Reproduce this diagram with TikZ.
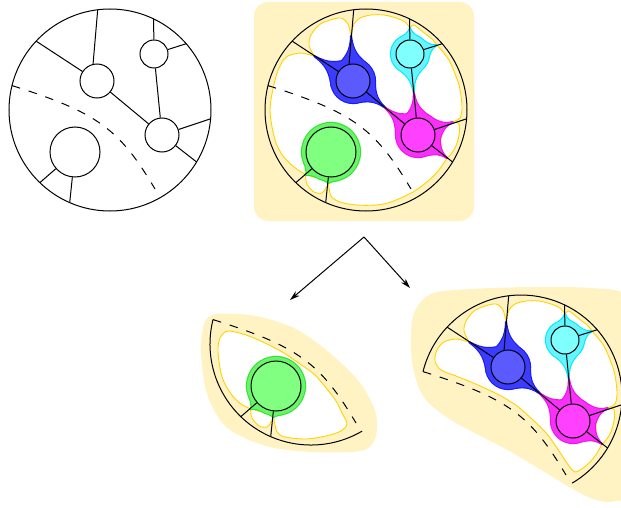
\documentclass[tikz,border=0pt]{standalone}
\usetikzlibrary{arrows.meta}

\definecolor{paper}{RGB}{255,243,196}
\definecolor{rim}{RGB}{255,210,0}
\definecolor{bluev}{RGB}{90,90,255}
\definecolor{blueh}{RGB}{60,60,255}
\definecolor{blueo}{RGB}{25,25,245}
\definecolor{cyanv}{RGB}{128,255,255}
\definecolor{cyanh}{RGB}{100,245,255}
\definecolor{cyano}{RGB}{0,235,255}
\definecolor{magv}{RGB}{255,64,255}
\definecolor{magh}{RGB}{250,48,250}
\definecolor{mago}{RGB}{235,20,235}
\definecolor{greenv}{RGB}{128,255,128}
\definecolor{greenh}{RGB}{105,245,105}
\definecolor{greeno}{RGB}{45,230,45}

\tikzset{
  vtx/.style={circle, draw, line width=1pt, inner sep=0pt, fill=white},
  link/.style={line width=1pt},
  face/.style={fill=white, draw=rim, line width=0.9pt},
  cut/.style={line width=1pt, dash pattern=on 8.5pt off 9pt},
  haloedge/.style={fill=#1o, draw=#1o, line width=2.2pt, line join=round},
  halofill/.style={fill=#1h},
}

% points where the edges meet the disc boundary
\newcommand{\rimpoints}[1]{%
  \coordinate (#1P1) at (97.7,9.8);
  \coordinate (#1P2) at (36.1,41.1);
  \coordinate (#1P3) at (153.6,18.9);
  \coordinate (#1P4) at (186.2,43.7);
  \coordinate (#1P5) at (210.6,118.8);
  \coordinate (#1P6) at (196.6,162.0);
  \coordinate (#1P7) at (39.8,182.7);
  \coordinate (#1P8) at (69.7,202.6);
  \coordinate (#1P9) at (12.0,85.6);
  \coordinate (#1Q) at (161.1,197.1);}

\newcommand{\topgraph}[4]{%
  \node[vtx, minimum size=34pt, fill=#2] (#1A) at (97,81) {};
  \node[vtx, minimum size=28pt, fill=#3] (#1B) at (154,54) {};
  \node[vtx, minimum size=34pt, fill=#4] (#1C) at (162,135) {};
  \draw[link] (#1A.103) -- (#1P1);
  \draw[link] (#1A) -- (#1P2);
  \draw[link] (#1A) -- (#1C);
  \draw[link] (#1B) -- (#1P3);
  \draw[link] (#1B) -- (#1P4);
  \draw[link] (#1B) -- (#1C);
  \draw[link] (#1C) -- (#1P5);
  \draw[link] (#1C) -- (#1P6);}

\newcommand{\lowgraph}[2]{%
  \node[vtx, minimum size=50pt, fill=#2] (#1D) at (75,152) {};
  \draw[link] (#1D) -- (#1P7);
  \draw[link] (#1D) -- (#1P8);}

% halo: disc plus tapering spikes along the edges
\newcommand{\halopass}[4]{%
  \begin{scope}[shift={(#2)}]
    \path[#1] (0,0) circle[radius=#3];
    \foreach \spa/\spl in {#4}
      \path[#1] (\spa+48:#3)
        .. controls (\spa+16:{#3+0.1*(\spl-#3)}) and (\spa+2:{#3+0.3*(\spl-#3)}) .. (\spa:\spl)
        .. controls (\spa-2:{#3+0.3*(\spl-#3)}) and (\spa-16:{#3+0.1*(\spl-#3)}) .. (\spa-48:#3) -- cycle;
  \end{scope}}
\newcommand{\halo}[4]{%
  \halopass{haloedge=#3}{#1}{#2}{#4}%
  \halopass{halofill=#3}{#1}{#2}{#4}}

\newcommand{\tophalos}{%
  \halo{97,81}{22}{blue}{-92.5/45, -147.3/46, 39.7/41.5}
  \halo{154,54}{19}{cyan}{-90/26, -18.4/28, 84.4/39}
  \halo{162,135}{22}{mag}{-140.3/43.5, -95.6/42, -20.4/37, 38.4/37}}
\newcommand{\lowhalo}{\halo{75,152}{29}{green}{137.4/34, 94.6/31}}

\newcommand{\topfaces}{%
  \path[face] plot[smooth] coordinates {(58,56) (53,45) (55,35) (63,25) (74,20) (85,18) (92,24) (95,36)} -- (97,81) -- cycle;
  \path[face] plot[smooth] coordinates {(95,36) (98,24) (104,18) (115,15) (128,15) (140,18) (149,22) (154,28)}
    -- (154,54) -- (158,93) -- (162,135) -- (128.5,107.2) -- (97,81) -- cycle;
  \path[face] plot[smooth] coordinates {(154,28) (158,25) (167,32) (176,39) (181,45)} -- (154,54) -- cycle;
  \path[face] plot[smooth] coordinates {(181,45) (187,52) (194,62) (203,85) (206,106) (204,118) (196,122)}
    -- (162,135) -- (158,93) -- (154,54) -- cycle;
  \path[face] plot[smooth cycle] coordinates {(196,122) (203,124) (203,135) (199,148) (191,158) (186,150) (185,140) (188,129)};}
\newcommand{\cornerface}{%
  \path[face] plot[smooth cycle] coordinates {(50,175) (51,184) (58,192) (66,193) (70,188) (72.5,183) (66,178) (57,177)};}

\begin{document}
\begin{tikzpicture}[x=1pt, y=-1pt]
\useasboundingbox (0,0) rectangle (621,508);

% the map on the disc
\begin{scope}
  \rimpoints{a}
  \draw[cut] (aP9) .. controls (97.7,112.6) and (119.3,128.8) .. (155,189);
  \draw[link] (110,110) circle[radius=101];
  \topgraph{a}{white}{white}{white}
  \lowgraph{a}{white}
\end{scope}

% thickened map
\begin{scope}[shift={(256,0)}]
  \fill[paper, rounded corners=14pt] (-2,2) rectangle (218,221);
  \rimpoints{b}
  \topfaces
  \path[face] plot[smooth] coordinates {(58,56) (45,53) (32,56) (25,64) (19,80) (14,110) (19,140) (27,156) (38,167) (50,175)}
    -- (75,152) -- plot[smooth] coordinates {(72.5,183) (75,196) (84,202) (100,205) (120,205) (135,202) (157,192) (172,181) (183,170) (191,158)}
    -- (162,135) -- (128.5,107.2) -- (97,81) -- cycle;
  \cornerface
  \tophalos
  \lowhalo
  \draw[cut] (bP9) .. controls (97.7,112.6) and (119.3,128.8) .. (155,189);
  \draw[link] (110,110) circle[radius=101];
  \topgraph{b}{bluev}{cyanv}{magv}
  \lowgraph{b}{greenv}
\end{scope}

% lower piece
\begin{scope}[shift={(201,234)}]
  \fill[paper] plot[smooth cycle] coordinates {(3,90) (15,80) (55,82) (95,95) (130,120) (160,150) (175,180) (174,205) (160,217) (110,218) (65,212) (25,193) (6,160) (0,120)};
  \rimpoints{c}
  \path[face] plot[smooth] coordinates {(50,175) (40,170) (30,160) (21,143) (17,118) (19,104) (27,97) (45,101) (64,109) (83,119) (99,130) (114,141) (126,155) (135,167) (141,179) (146,190) (140,197) (125,202) (105,205) (84,203) (76,198) (72.5,183)}
    -- (75,152) -- cycle;
  \cornerface
  \lowhalo
  \draw[cut] (cP9) .. controls (97.7,112.6) and (119.3,128.8) .. (155,189);
  \draw[link] (cP9) arc[start angle=-166, end angle=-300.4, radius=101];
  \lowgraph{c}{greenv}
\end{scope}

% upper piece
\begin{scope}[shift={(411,286)}]
  \fill[paper] plot[smooth cycle] coordinates {(2,30) (20,8) (60,3) (120,1) (180,2) (215,10) (225,60) (225,200) (205,215) (185,214) (160,202) (100,166) (40,134) (12,110) (1,75)};
  \rimpoints{d}
  \topfaces
  \path[face] plot[smooth] coordinates {(58,56) (45,53) (33,56) (26,64) (24,75) (30,84) (45,90) (67,99) (90,110) (106,120) (122,134) (136,148) (148,165) (158,180) (164,186) (172,182) (180,175) (186,167) (191,158)}
    -- (162,135) -- (128.5,107.2) -- (97,81) -- cycle;
  \tophalos
  \draw[cut] (dP9) .. controls (97.7,112.6) and (119.3,128.8) .. (155,189);
  \draw[link] (dP9) arc[start angle=-166, end angle=59.6, radius=101];
  \topgraph{d}{bluev}{cyanv}{magv}
\end{scope}

% cutting along the dashed curve
\coordinate (fork) at (364,237);
\coordinate (toleft) at (290,300);
\coordinate (toright) at (410,288);
\draw[link, -{Stealth[length=10pt, width=6pt]}] (fork) -- (toleft);
\draw[link, -{Stealth[length=10pt, width=6pt]}] (fork) -- (toright);
\end{tikzpicture}
\end{document}
